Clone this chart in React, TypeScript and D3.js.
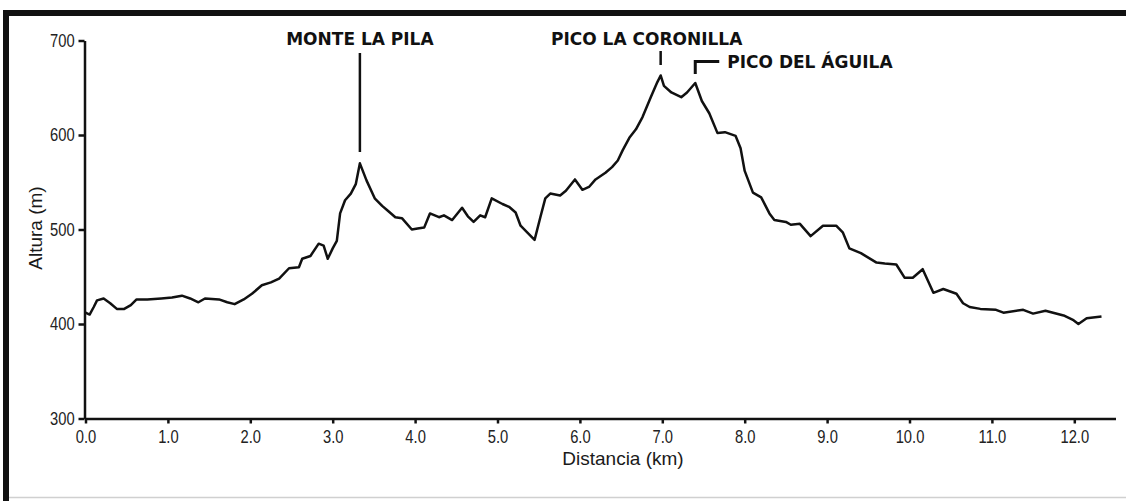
import { useEffect, useRef } from 'react';
import * as d3 from 'd3';

// perfil de altura: distancia (km) y altura (m)
const distancia = [
  0.0, 0.05, 0.1, 0.14, 0.22, 0.3, 0.38, 0.47, 0.55, 0.62, 0.75, 0.92, 1.05, 1.17, 1.27, 1.37, 1.45, 1.62, 1.72, 1.81,
  1.92, 2.02, 2.14, 2.25, 2.35, 2.47, 2.59, 2.63, 2.73, 2.83, 2.89, 2.94, 3.0, 3.05, 3.09, 3.15, 3.22, 3.28, 3.33, 3.41,
  3.51, 3.6, 3.68, 3.76, 3.84, 3.96, 4.03, 4.11, 4.18, 4.29, 4.35, 4.45, 4.57, 4.64, 4.71, 4.79, 4.85, 4.93, 5.06, 5.14,
  5.22, 5.28, 5.36, 5.45, 5.52, 5.58, 5.64, 5.76, 5.83, 5.94, 6.03, 6.11, 6.19, 6.31, 6.39, 6.46, 6.52, 6.6, 6.68, 6.76,
  6.86, 6.94, 6.98, 7.02, 7.11, 7.23, 7.3, 7.4, 7.48, 7.57, 7.67, 7.76, 7.89, 7.95, 8.0, 8.1, 8.2, 8.3, 8.36, 8.5,
  8.56, 8.67, 8.8, 8.95, 9.11, 9.19, 9.27, 9.41, 9.6, 9.7, 9.84, 9.94, 10.04, 10.16, 10.29, 10.41, 10.57, 10.65, 10.73, 10.86,
  11.05, 11.14, 11.38, 11.5, 11.65, 11.87, 11.99, 12.05, 12.15, 12.33,
];
const altura = [
  412, 410, 418, 425, 427, 422, 416, 416, 420, 426, 426, 427, 428, 430, 427, 423, 427, 426, 423, 421,
  426, 432, 441, 444, 448, 459, 460, 469, 472, 485, 483, 469, 480, 488, 517, 531, 538, 548, 570, 552,
  533, 525, 519, 513, 512, 500, 501, 502, 517, 513, 515, 510, 523, 514, 508, 515, 513, 533, 527, 524,
  518, 504, 497, 489, 513, 533, 538, 536, 541, 553, 542, 545, 553, 560, 566, 573, 584, 597, 606, 619,
  640, 656, 663, 652, 645, 640, 645, 655, 636, 623, 602, 603, 599, 586, 562, 539, 534, 517, 510, 508,
  505, 506, 493, 504, 504, 497, 480, 475, 465, 464, 463, 449, 449, 458, 433, 437, 432, 422, 418, 416,
  415, 412, 415, 411, 414, 409, 404, 400, 406, 408,
];

const xTicks = [0, 1, 2, 3, 4, 5, 6, 7, 8, 9, 10, 11, 12];
const yTicks = [300, 400, 500, 600, 700];

const cimas = ['MONTE LA PILA', 'PICO LA CORONILLA', 'PICO DEL ÁGUILA'];
const cimasKm = [3.33, 6.98, 7.4];

const width = 1126;
const height = 501;

const App = () => {
  const svgRef = useRef<SVGSVGElement>(null);

  useEffect(() => {
    const svg = d3.select(svgRef.current);
    svg.selectAll('*').remove();

    const x = d3.scaleLinear().domain([0, 12.5]).range([85.5, 1115.5]);
    const y = d3.scaleLinear().domain([300, 700]).range([418.5, 40.5]);

    // fondo y marco
    svg.append('rect').attr('width', width).attr('height', height).attr('fill', '#fff');
    svg.append('rect').attr('x', 3).attr('y', 10).attr('width', width - 3).attr('height', 6).attr('fill', '#111');
    svg.append('rect').attr('x', 3).attr('y', 10).attr('width', 6).attr('height', height - 10).attr('fill', '#111');
    svg.append('line')
      .attr('x1', 9).attr('x2', width).attr('y1', 497.5).attr('y2', 497.5)
      .attr('stroke', '#d0d0d0').attr('stroke-width', 1.5);

    const tickFont = '"Liberation Sans", Arial, sans-serif';

    // eje X
    const gx = svg.append('g')
      .attr('transform', `translate(0, ${y(300)})`)
      .call(
        d3.axisBottom(x)
          .tickValues(xTicks)
          .tickSize(5)
          .tickSizeOuter(0)
          .tickPadding(7)
          .tickFormat(d => d3.format('.1f')(d as number))
      );
    gx.select('.domain').attr('stroke', '#111').attr('stroke-width', 2.5);
    gx.selectAll('.tick line').attr('stroke', '#111').attr('stroke-width', 2.5);
    gx.selectAll('.tick text')
      .attr('fill', '#222')
      .attr('font-size', '18px')
      .attr('font-family', tickFont)
      .attr('transform', 'scale(0.82,1)');

    // eje Y
    const gy = svg.append('g')
      .attr('transform', `translate(${x(0) - 1}, 0)`)
      .call(
        d3.axisLeft(y)
          .tickValues(yTicks)
          .tickSize(6)
          .tickSizeOuter(0)
          .tickPadding(6)
      );
    gy.select('.domain').attr('stroke', '#111').attr('stroke-width', 2.5);
    gy.selectAll('.tick line').attr('stroke', '#111').attr('stroke-width', 2.5);
    gy.selectAll('.tick text')
      .attr('fill', '#222')
      .attr('font-size', '18px')
      .attr('font-family', tickFont)
      .attr('transform', 'scale(0.82,1)');

    // títulos de ejes
    svg.append('text')
      .attr('x', 623).attr('y', 465)
      .attr('text-anchor', 'middle')
      .attr('font-family', 'Arial, "Liberation Sans", sans-serif')
      .attr('font-size', '19px')
      .attr('fill', '#1a1a1a')
      .text('Distancia (km)');

    svg.append('text')
      .attr('transform', 'translate(42, 228) rotate(-90)')
      .attr('text-anchor', 'middle')
      .attr('font-family', 'Arial, "Liberation Sans", sans-serif')
      .attr('font-size', '19px')
      .attr('fill', '#1a1a1a')
      .text('Altura (m)');

    // perfil
    const puntos = distancia.map((d, i) => [d, altura[i]] as [number, number]);
    const line = d3.line<[number, number]>()
      .x(d => x(d[0]))
      .y(d => y(d[1]));

    svg.append('path')
      .attr('d', line(puntos))
      .attr('fill', 'none')
      .attr('stroke', '#111')
      .attr('stroke-width', 2.5)
      .attr('stroke-linejoin', 'round');

    // etiquetas de cimas
    const labelFont = '"DejaVu Sans", Verdana, sans-serif';
    const etiqueta = (txt: string, px: number, py: number, anchor: string) =>
      svg.append('text')
        .attr('x', px).attr('y', py)
        .attr('text-anchor', anchor)
        .attr('font-family', labelFont)
        .attr('font-weight', 'bold')
        .attr('font-size', '17px')
        .attr('fill', '#111')
        .text(txt);

    const xm = x(cimasKm[0]);
    etiqueta(cimas[0], xm, 45, 'middle');
    svg.append('line')
      .attr('x1', xm).attr('x2', xm).attr('y1', 53).attr('y2', 152)
      .attr('stroke', '#111').attr('stroke-width', 2.5);

    const xc = x(cimasKm[1]);
    etiqueta(cimas[1], xc - 14, 45, 'middle');
    svg.append('line')
      .attr('x1', xc).attr('x2', xc).attr('y1', 51).attr('y2', 65)
      .attr('stroke', '#111').attr('stroke-width', 2.5);

    const xa = x(cimasKm[2]);
    etiqueta(cimas[2], xa + 32, 68, 'start');
    svg.append('path')
      .attr('d', `M${xa},74 V61.5 H${xa + 24}`)
      .attr('fill', 'none')
      .attr('stroke', '#111').attr('stroke-width', 3);
  }, []);

  return (
    <svg
      ref={svgRef}
      width={width}
      height={height}
      style={{ position: 'absolute', left: 0, top: 0 }}
    />
  );
};

export default App;
